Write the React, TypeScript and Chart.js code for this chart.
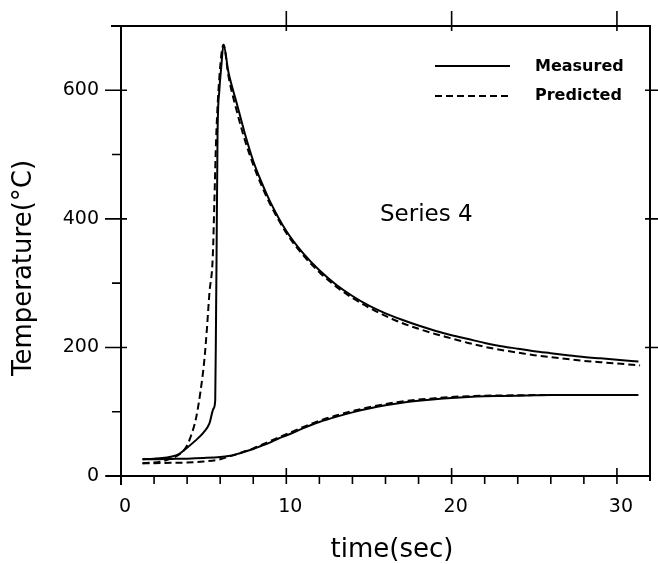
import React, { useEffect, useRef } from "react";
import { Chart, registerables } from "chart.js";

Chart.register(...registerables);

// Upper curve (fast-rise / peak) – measured
const upperMeasuredTime = [1.3, 2, 2.5, 3, 3.5, 4, 4.5, 5, 5.35, 5.6, 5.7, 5.75, 5.78, 5.84, 5.95, 6.06, 6.2, 6.5, 7, 7.5, 8, 8.5, 9, 10, 11, 12, 13, 14, 15, 16, 17, 18, 19, 20, 21, 22, 23, 24, 25, 26, 27, 28, 29, 30, 31.3];
const upperMeasuredTemp = [26, 27, 28, 30, 34, 44, 55, 68, 82, 105, 118, 250, 340, 530, 600, 635, 671, 628, 580, 532, 490, 457, 428, 381, 347, 320, 298, 280, 265, 253, 243, 234, 226, 219, 213, 207, 202, 198, 194, 191, 188, 185, 183, 181, 178];

// Upper curve – predicted
const upperPredictedTime = [1.3, 2, 2.5, 3, 3.5, 3.94, 4.2, 4.54, 4.8, 5.04, 5.2, 5.35, 5.55, 5.65, 5.75, 5.95, 6.2, 6.5, 7, 7.5, 8, 8.5, 9, 10, 11, 12, 13, 14, 15, 16, 17, 18, 19, 20, 21, 22, 23, 24, 25, 26, 27, 28, 29, 30, 31.4];
const upperPredictedTemp = [20, 21, 23, 27, 33, 45, 60, 90, 130, 180, 230, 285, 340, 428, 521, 620, 671, 622, 568, 522, 484, 452, 424, 378, 344, 317, 295, 277, 262, 249, 238, 229, 221, 214, 207, 201, 196, 192, 188, 185, 182, 179, 177, 175, 172];

// Lower curve (slow rise) – measured
const lowerMeasuredTime = [1.3, 2, 3, 4, 5, 6, 6.5, 7, 7.5, 8, 8.5, 9, 9.5, 10, 11, 12, 13, 14, 15, 16, 17, 18, 19, 20, 21, 22, 23, 24, 25, 26, 28, 30, 31.3];
const lowerMeasuredTemp = [26, 26, 26.5, 27, 28, 29.5, 31, 34, 38, 42, 47, 52, 58, 63, 74, 84, 92, 99, 105, 110, 114, 117, 119.5, 121.5, 123, 124, 124.5, 125, 125.5, 126, 126, 126, 126];

// Lower curve – predicted
const lowerPredictedTime = [1.3, 2, 3, 4, 5, 6, 6.5, 7, 8, 9, 10, 11, 12, 13, 14, 15, 16, 17, 18, 19, 20, 21, 22, 24, 26, 28, 30, 31.3];
const lowerPredictedTemp = [20, 20, 20.5, 21, 22.5, 26, 30, 34, 43, 54, 65, 76, 86, 94, 101, 107, 112, 116, 119, 121, 123, 124, 125, 125.5, 126, 126, 126, 126];

const xTickValues = [0, 10, 20, 30];
const xMinorTickValues = [2, 4, 6, 8, 12, 14, 16, 18, 22, 24, 26, 28];
const yTickValues = [0, 200, 400, 600];
const yMinorTickValues = [100, 300, 500];

const legendLabels = ["Measured", "Predicted"];
const annotationText = "Series 4";
const xTitle = "time(sec)";
const yTitle = "Temperature(°C)";

const INK = "#000";
const DASH = [7, 4];

const pairs = (xs: number[], ys: number[]) => xs.map((x, i) => ({ x, y: ys[i] }));

const framePlugin = {
  id: "frame",
  afterDraw(chart: any) {
    const { ctx, chartArea, scales } = chart;
    const xs = scales.x;
    const ys = scales.y;
    const { left, right, top, bottom } = chartArea;
    ctx.save();
    ctx.strokeStyle = INK;
    ctx.lineWidth = 2;
    ctx.setLineDash([]);
    ctx.lineCap = "butt";
    // frame
    ctx.beginPath();
    ctx.moveTo(left - 15, bottom);
    ctx.lineTo(right, bottom);
    ctx.moveTo(left, top);
    ctx.lineTo(left, bottom + 9);
    ctx.moveTo(left - 10, top);
    ctx.lineTo(right + 1, top);
    ctx.moveTo(right, top);
    ctx.lineTo(right, bottom + 5);
    ctx.stroke();

    ctx.lineWidth = 1.6;
    ctx.beginPath();
    xTickValues.forEach((v) => {
      const px = xs.getPixelForValue(v);
      ctx.moveTo(px, bottom - 8);
      ctx.lineTo(px, bottom + 8);
      if (v > 0) {
        ctx.moveTo(px, top - 15);
        ctx.lineTo(px, top + 5);
      }
    });
    xMinorTickValues.forEach((v) => {
      const px = xs.getPixelForValue(v);
      ctx.moveTo(px, bottom);
      ctx.lineTo(px, bottom + 8);
    });
    yTickValues.forEach((v) => {
      const py = ys.getPixelForValue(v);
      ctx.moveTo(left - 16, py);
      ctx.lineTo(left + 6, py);
      if (v > 0) {
        ctx.moveTo(right - 5, py);
        ctx.lineTo(right + 8, py);
      }
    });
    yMinorTickValues.forEach((v) => {
      const py = ys.getPixelForValue(v);
      ctx.moveTo(left - 9, py);
      ctx.lineTo(left, py);
    });
    ctx.stroke();

    // axis titles
    ctx.fillStyle = INK;
    ctx.font = '26px "DejaVu Sans"';
    ctx.textAlign = "center";
    ctx.textBaseline = "middle";
    ctx.fillText(xTitle, 392, 550);
    ctx.save();
    ctx.translate(24, 268);
    ctx.rotate(-Math.PI / 2);
    ctx.fillText(yTitle, 0, 0);
    ctx.restore();

    // legend
    ctx.lineWidth = 2;
    ctx.beginPath();
    ctx.moveTo(435, 66);
    ctx.lineTo(510, 66);
    ctx.stroke();
    ctx.setLineDash(DASH);
    ctx.beginPath();
    ctx.moveTo(435, 96);
    ctx.lineTo(510, 96);
    ctx.stroke();
    ctx.setLineDash([]);
    ctx.font = 'bold 16px "DejaVu Sans"';
    ctx.textAlign = "left";
    ctx.fillText(legendLabels[0], 535, 67);
    ctx.fillText(legendLabels[1], 535, 96);

    // annotation
    ctx.font = '23px "DejaVu Sans"';
    ctx.fillText(annotationText, 380, 215);
    ctx.restore();
  },
};

export default function App() {
  const ref = useRef<HTMLCanvasElement | null>(null);
  useEffect(() => {
    document.body.style.margin = "0";
    const canvas = ref.current;
    if (!canvas) return;
    const solid = { borderColor: INK, borderWidth: 2, pointRadius: 0, fill: false, cubicInterpolationMode: "monotone" as const };
    const dashed = { ...solid, borderDash: DASH };
    const chart = new Chart(canvas, {
      type: "line",
      data: {
        datasets: [
          { label: "Measured", data: pairs(upperMeasuredTime, upperMeasuredTemp), ...solid },
          { label: "Predicted", data: pairs(upperPredictedTime, upperPredictedTemp), ...dashed },
          { label: "Measured (lower)", data: pairs(lowerMeasuredTime, lowerMeasuredTemp), ...solid },
          { label: "Predicted (lower)", data: pairs(lowerPredictedTime, lowerPredictedTemp), ...dashed },
        ],
      },
      options: {
        animation: false,
        responsive: false,
        devicePixelRatio: 1,
        layout: { padding: { top: 26, right: 8, left: 0, bottom: 0 } },
        plugins: { legend: { display: false }, tooltip: { enabled: false } },
        scales: {
          x: {
            type: "linear",
            min: 0,
            max: 32,
            grid: { display: false, drawTicks: false },
            border: { display: false },
            afterBuildTicks: (s: any) => {
              s.ticks = xTickValues.map((value) => ({ value }));
            },
            afterFit: (s: any) => {
              s.height = 88;
              s.paddingLeft = 0;
              s.paddingRight = 0;
              s.paddingTop = 0;
              s.paddingBottom = 0;
            },
            ticks: {
              color: INK,
              padding: 20,
              maxRotation: 0,
              labelOffset: 4,
              font: { family: '"DejaVu Sans"', size: 19 },
            },
          },
          y: {
            type: "linear",
            min: 0,
            max: 700,
            grid: { display: false, drawTicks: false },
            border: { display: false },
            afterBuildTicks: (s: any) => {
              s.ticks = yTickValues.map((value) => ({ value }));
            },
            afterFit: (s: any) => {
              s.width = 121;
              s.paddingLeft = 0;
              s.paddingRight = 0;
              s.paddingTop = 0;
              s.paddingBottom = 0;
            },
            ticks: {
              color: INK,
              padding: 22,
              font: { family: '"DejaVu Sans"', size: 19 },
            },
          },
        },
      },
      plugins: [framePlugin],
    });
    return () => chart.destroy();
  }, []);
  return (
    <div style={{ width: 658, height: 564, position: "relative", background: "#fff" }}>
      <canvas ref={ref} width={658} height={564} />
    </div>
  );
}
